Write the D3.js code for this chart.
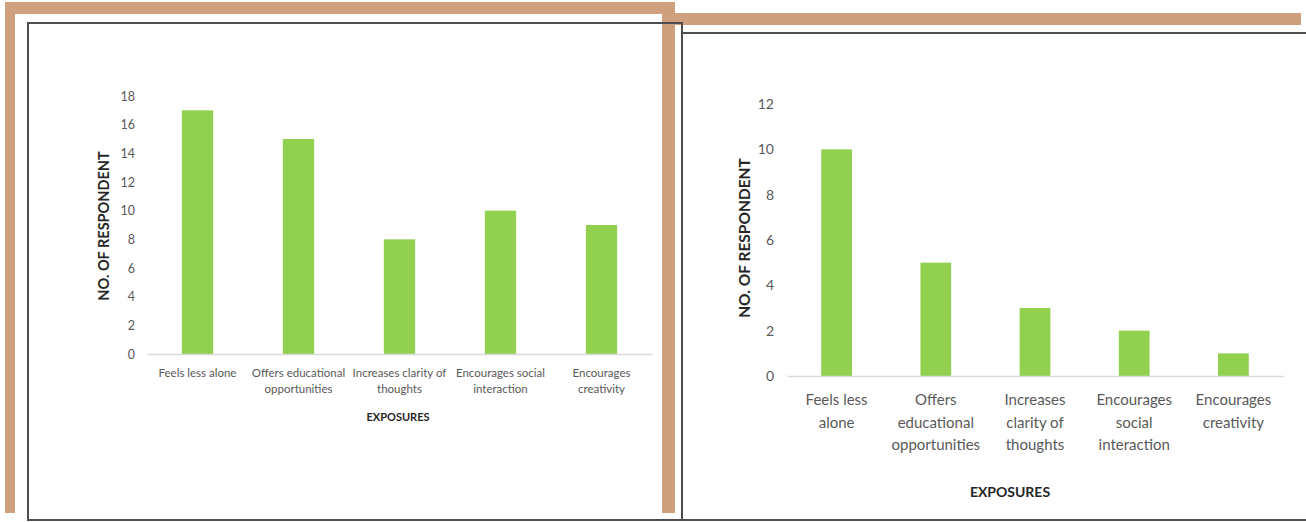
<!DOCTYPE html>
<html>
<head>
<meta charset="utf-8">
<script src="https://cdn.jsdelivr.net/npm/d3@7"></script>
<style>
  body { margin: 0; background: #fff; }
  svg { display: block; }
  .tick-label { fill: #595959; }
  .cat-label { fill: #595959; }
  .axis-title { fill: #262626; font-weight: bold; }
</style>
</head>
<body>
<svg id="chart" width="1306" height="522"></svg>
<script>
// Data
const leftCategories = [
  ["Feels less alone"],
  ["Offers educational", "opportunities"],
  ["Increases clarity of", "thoughts"],
  ["Encourages social", "interaction"],
  ["Encourages", "creativity"]
];
const leftValues = [17, 15, 8, 10, 9];
const leftTicks = [0, 2, 4, 6, 8, 10, 12, 14, 16, 18];

const rightCategories = [
  ["Feels less", "alone"],
  ["Offers", "educational", "opportunities"],
  ["Increases", "clarity of", "thoughts"],
  ["Encourages", "social", "interaction"],
  ["Encourages", "creativity"]
];
const rightValues = [10, 5, 3, 2, 1];
const rightTicks = [0, 2, 4, 6, 8, 10, 12];

const xTitle = "EXPOSURES",
      yTitle = "NO. OF RESPONDENT",
      barColor = "#92d050",
      tan = "#cfa07e",
      font = "Lato, 'Open Sans', sans-serif";

const svg = d3.select("#chart").style("font-family", font);

// Tan frame behind the two panels
svg.append("rect").attr("x", 5).attr("y", 2).attr("width", 670).attr("height", 12).attr("fill", tan);
svg.append("rect").attr("x", 5).attr("y", 2).attr("width", 10).attr("height", 511).attr("fill", tan);
svg.append("rect").attr("x", 662).attr("y", 2).attr("width", 13).attr("height", 511).attr("fill", tan);
svg.append("rect").attr("x", 662).attr("y", 13).attr("width", 639).attr("height", 12).attr("fill", tan);

// Panel boxes
svg.append("rect").attr("x", 28).attr("y", 23).attr("width", 654).attr("height", 497)
   .attr("fill", "none").attr("stroke", "#4d4d4d").attr("stroke-width", 2);
svg.append("rect").attr("x", 682).attr("y", 33).attr("width", 630).attr("height", 487)
   .attr("fill", "#fff").attr("stroke", "#4d4d4d").attr("stroke-width", 2);

// Draws one bar chart
function drawChart(cfg) {
  const g = svg.append("g");

  let x = d3.scaleBand()
            .domain(cfg.categories.map((d, i) => i))
            .range([cfg.x0, cfg.x1])
            .paddingInner(0.69)
            .paddingOuter(0.345);

  let y = d3.scaleLinear()
            .domain([0, d3.max(cfg.ticks)])
            .range([cfg.y0, cfg.y1]);

  // y tick labels
  let yAxis = d3.axisLeft(y).tickValues(cfg.ticks).tickSize(0).tickPadding(0);
  let ya = g.append("g")
            .attr("transform", "translate(" + cfg.tickX + ",0)")
            .call(yAxis);
  ya.select(".domain").remove();
  ya.selectAll("text")
    .attr("class", "tick-label")
    .attr("fill", "#595959")
    .style("font-family", font)
    .style("font-size", cfg.tickSize + "px");

  // bars
  g.selectAll(".bar")
   .data(cfg.values)
   .enter().append("rect")
   .attr("class", "bar")
   .attr("x", (d, i) => x(i))
   .attr("y", (d) => y(d))
   .attr("width", x.bandwidth())
   .attr("height", (d) => y(0) - y(d))
   .attr("fill", barColor);

  // baseline
  let xAxis = d3.axisBottom(x).tickSize(0).tickFormat("");
  let xa = g.append("g")
            .attr("transform", "translate(0," + y(0) + ")")
            .call(xAxis);
  xa.select(".domain").attr("stroke", "#d9d9d9").attr("stroke-width", 1.5);

  // category labels
  cfg.categories.forEach((lines, i) => {
    let t = g.append("text")
             .attr("class", "cat-label")
             .attr("text-anchor", "middle")
             .style("font-size", cfg.labelSize + "px");
    lines.forEach((line, j) => {
      t.append("tspan")
       .attr("x", x(i) + x.bandwidth() / 2)
       .attr("y", cfg.labelY + j * cfg.lineHeight)
       .text(line);
    });
  });

  // x title
  g.append("text")
   .attr("class", "axis-title")
   .attr("x", cfg.xTitleX)
   .attr("y", cfg.xTitleY)
   .attr("text-anchor", "middle")
   .style("font-size", cfg.titleSize + "px")
   .text(xTitle);

  // y title
  g.append("text")
   .attr("class", "axis-title")
   .attr("transform", "translate(" + cfg.yTitleX + "," + cfg.yTitleY + ") rotate(-90)")
   .attr("text-anchor", "middle")
   .attr("dy", "0.35em")
   .style("font-size", cfg.yTitleSize + "px")
   .text(yTitle);
}

drawChart({
  categories: leftCategories, values: leftValues, ticks: leftTicks,
  x0: 147, x1: 652, y0: 354, y1: 96,
  tickX: 135, tickSize: 12.5,
  labelY: 377, lineHeight: 16, labelSize: 11.5,
  xTitleX: 398, xTitleY: 421, titleSize: 11,
  yTitleX: 104, yTitleY: 226, yTitleSize: 14.5
});

drawChart({
  categories: rightCategories, values: rightValues, ticks: rightTicks,
  x0: 787, x1: 1283, y0: 376, y1: 104,
  tickX: 774, tickSize: 14,
  labelY: 405, lineHeight: 22.5, labelSize: 15,
  xTitleX: 1010, xTitleY: 497, titleSize: 14,
  yTitleX: 745, yTitleY: 238, yTitleSize: 15.5
});
</script>
</body>
</html>
